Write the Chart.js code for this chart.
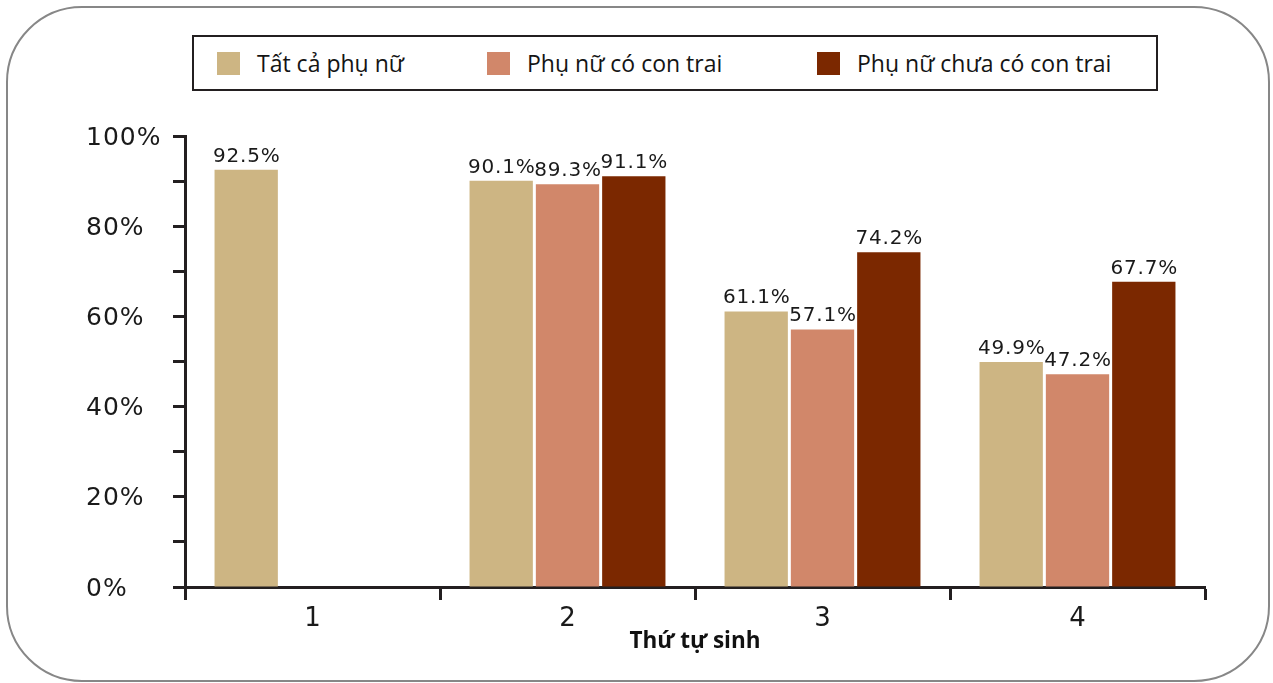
<!DOCTYPE html>
<html lang="vi">
<head>
<meta charset="utf-8">
<title>Thứ tự sinh</title>
<script src="https://cdn.jsdelivr.net/npm/chart.js@4.4.1/dist/chart.umd.min.js"></script>
<style>
  html, body { margin: 0; padding: 0; background: #fff; }
  body { width: 1273px; height: 683px; position: relative; overflow: hidden; }
  #frame {
    position: absolute; left: 6px; top: 6px; width: 1264px; height: 676px;
    box-sizing: border-box; border: 2px solid #878787; border-radius: 76px;
  }
  #chart { position: absolute; left: 0; top: 0; }
  #legend {
    position: absolute; left: 192px; top: 35px; width: 966px; height: 56px;
    box-sizing: border-box; border: 2px solid #231f20; background: #fff;
    font-family: "Open Sans", "Noto Sans", sans-serif; font-size: 23px; color: #141414;
  }
  .item { position: absolute; top: 0; height: 52px; display: flex; align-items: center; }
  .swatch { width: 23px; height: 23px; margin-right: 17px; flex: none; }
</style>
</head>
<body>
<div id="frame"></div>
<canvas id="chart" width="1273" height="683"></canvas>
<div id="legend"></div>
<script>
// Birth order categories
const birthOrder = ['1', '2', '3', '4'];

// Share (%) per birth order
const allWomen      = [92.5, 90.1, 61.1, 49.9];
const womenWithSon  = [null, 89.3, 57.1, 47.2];
const womenNoSon    = [null, 91.1, 74.2, 67.7];

// Series names and colours
const seriesNames  = ['Tất cả phụ nữ', 'Phụ nữ có con trai', 'Phụ nữ chưa có con trai'];
const seriesColors = ['#CDB583', '#D1876A', '#7B2800'];

// Y axis range and step
const yMin = 0, yMax = 100, yStep = 10;

const axisColor = '#231f20';
const numFont = 'DejaVu Sans';

// Value labels drawn above each bar
const valueLabels = {
  id: 'valueLabels',
  afterDatasetsDraw(chart) {
    const ctx = chart.ctx;
    ctx.save();
    ctx.font = '20px "' + numFont + '"';
    ctx.letterSpacing = '0.8px';
    ctx.fillStyle = '#1a1a1a';
    ctx.textAlign = 'center';
    ctx.textBaseline = 'alphabetic';
    chart.data.datasets.forEach((ds, i) => {
      const meta = chart.getDatasetMeta(i);
      meta.data.forEach((bar, j) => {
        const v = ds.data[j];
        if (v === null || v === undefined) return;
        ctx.fillText(v.toFixed(1) + '%', bar.x + 0.5, bar.y - 8);
      });
    });
    ctx.restore();
  }
};

// Widen the y tick labels slightly and set them a touch lower
function spaceLabels(scale, spacing, dy) {
  if (scale._spacedLabels) return;
  const orig = scale.drawLabels.bind(scale);
  scale.drawLabels = function (area) {
    const c = this.ctx;
    c.save();
    c.letterSpacing = spacing;
    c.translate(0, dy);
    orig(area);
    c.restore();
  };
  scale._spacedLabels = true;
}

const seriesData = [allWomen, womenWithSon, womenNoSon];

function drawChart() {
  new Chart(document.getElementById('chart'), {
    type: 'bar',
    data: {
      labels: birthOrder,
      datasets: seriesData.map((d, i) => ({
        label: seriesNames[i],
        data: d,
        backgroundColor: seriesColors[i],
        borderWidth: 0,
        categoryPercentage: 0.78,
        barPercentage: 0.955
      }))
    },
    options: {
      responsive: false,
      animation: false,
      devicePixelRatio: 1,
      layout: { padding: { top: 136, right: 68, left: 86, bottom: 0 } },
      plugins: {
        legend: { display: false },
        tooltip: { enabled: false }
      },
      scales: {
        x: {
          afterFit(scale) { scale.height = 96; },
          grid: {
            offset: true,
            drawOnChartArea: false,
            drawTicks: true,
            tickLength: 13,
            tickWidth: 3,
            tickColor: axisColor
          },
          border: { display: true, color: axisColor, width: 3 },
          ticks: {
            padding: 4,
            color: '#1a1a1a',
            font: { family: numFont, size: 26 }
          },
          title: {
            display: true,
            text: 'Thứ tự sinh',
            color: '#111',
            font: { family: '"Open Sans"', size: 22.5, weight: 'bold' },
            padding: { top: 0, bottom: 28 }
          }
        },
        y: {
          min: yMin,
          max: yMax,
          afterFit(scale) { scale.width = 99; spaceLabels(scale, '1px', 2); },
          grid: {
            drawOnChartArea: false,
            drawTicks: true,
            tickLength: 12,
            tickWidth: 3,
            tickColor: axisColor
          },
          border: { display: true, color: axisColor, width: 3 },
          ticks: {
            stepSize: yStep,
            padding: 9,
            crossAlign: 'far',
            color: '#1a1a1a',
            font: { family: numFont, size: 25 },
            callback: (v) => (v % 20 === 0 ? v + '%' : '')
          }
        }
      }
    },
    plugins: [valueLabels]
  });
}

// Legend built from the series names and colours
const legendPositions = [23, 293, 623];
const legend = document.getElementById('legend');
seriesNames.forEach((name, i) => {
  const item = document.createElement('div');
  item.className = 'item';
  item.style.left = legendPositions[i] + 'px';
  const sw = document.createElement('span');
  sw.className = 'swatch';
  sw.style.background = seriesColors[i];
  const tx = document.createElement('span');
  tx.textContent = name;
  item.appendChild(sw);
  item.appendChild(tx);
  legend.appendChild(item);
});

Promise.all([
  document.fonts.load('20px "' + numFont + '"'),
  document.fonts.load('bold 23px "Open Sans"')
]).catch(() => {}).then(drawChart);
</script>
</body>
</html>
